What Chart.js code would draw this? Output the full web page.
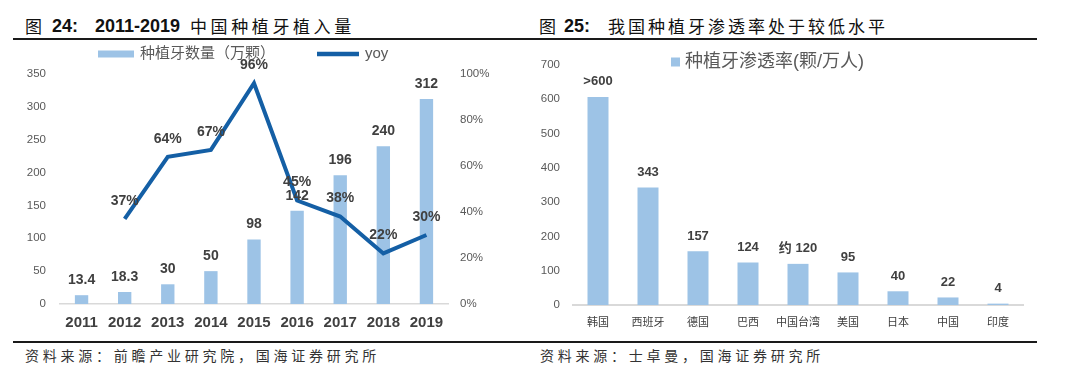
<!DOCTYPE html>
<html>
<head>
<meta charset="utf-8">
<script src="https://cdn.jsdelivr.net/npm/chart.js@4.4.1/dist/chart.umd.min.js"></script>
<style>
  body { margin: 0; width: 1080px; height: 376px; background: #fff; position: relative; overflow: hidden; }
  .t { position: absolute; white-space: nowrap; color: #111; line-height: 20px; top: 16px; }
  .cjk { font-family: "Noto Sans CJK SC", sans-serif; font-size: 17px; letter-spacing: 3.6px; }
  .num { font-family: "Liberation Sans", Arial, sans-serif; font-weight: bold; font-size: 18px; }
  .rule { position: absolute; left: 13px; width: 1024px; height: 2px; background: #1a1a1a; }
  .src { position: absolute; top: 345px; line-height: 20px; font-family: "Noto Sans CJK SC", sans-serif; font-size: 14px; letter-spacing: 3.75px; color: #333; white-space: nowrap; }
  canvas { position: absolute; top: 44px; }
</style>
</head>
<body>
<span class="t cjk" style="left:25px">图</span>
<span class="t num" style="left:52px">24:</span>
<span class="t num" style="left:95px">2011-2019</span>
<span class="t cjk" style="left:190px">中国种植牙植入量</span>

<span class="t cjk" style="left:539px">图</span>
<span class="t num" style="left:564px">25:</span>
<span class="t cjk" style="left:608px;letter-spacing:3px">我国种植牙渗透率处于较低水平</span>

<div class="rule" style="top:38px"></div>
<div class="rule" style="top:341px"></div>

<canvas id="implantChart" width="540" height="296" style="left:0"></canvas>
<canvas id="rateChart" width="540" height="296" style="left:540px"></canvas>

<div class="src" style="left:25px">资料来源：前瞻产业研究院，国海证券研究所</div>
<div class="src" style="left:540px">资料来源：士卓曼，国海证券研究所</div>

<script>
// data for fig 24
const years = ["2011", "2012", "2013", "2014", "2015", "2016", "2017", "2018", "2019"];
const implants = [13.4, 18.3, 30, 50, 98, 142, 196, 240, 312];
const implantLabels = ["13.4", "18.3", "30", "50", "98", "142", "196", "240", "312"];
const yoy = [null, 37, 64, 67, 96, 45, 38, 22, 30];

// data for fig 25
const countries = ["韩国", "西班牙", "德国", "巴西", "中国台湾", "美国", "日本", "中国", "印度"];
const penetration = [607, 343, 157, 124, 120, 95, 40, 22, 4];
const penetrationLabels = [">600", "343", "157", "124", "约 120", "95", "40", "22", "4"];

const LATIN = "'Liberation Sans', Arial, 'Noto Sans CJK SC', sans-serif";
const BAR_BLUE = "#9dc3e6";
const LINE_BLUE = "#145fa5";

// draws the text above each bar / point
const valueLabels = {
  id: "valueLabels",
  afterDatasetsDraw(chart) {
    const ctx = chart.ctx;
    chart.data.datasets.forEach((ds, i) => {
      if (!ds.valueTexts) return;
      const meta = chart.getDatasetMeta(i);
      meta.data.forEach((el, j) => {
        if (ds.data[j] === null) return;
        ctx.save();
        ctx.font = "bold " + ds.valueFont + "px " + LATIN;
        ctx.fillStyle = "#404040";
        ctx.textAlign = "center";
        ctx.textBaseline = "middle";
        ctx.fillText(ds.valueTexts[j], el.x, el.y - ds.valueOffset);
        ctx.restore();
      });
    });
  }
};

// simple legend drawn at a fixed spot
const fixedLegend = {
  id: "fixedLegend",
  afterDraw(chart, args, opts) {
    const ctx = chart.ctx;
    let x = opts.x;
    ctx.save();
    ctx.font = opts.fontSize + "px " + LATIN;
    ctx.textBaseline = "middle";
    chart.data.datasets.forEach((ds) => {
      const [w, h] = ds.legendBox;
      ctx.fillStyle = ds.type === "line" ? ds.borderColor : ds.backgroundColor;
      ctx.fillRect(x, opts.y - h / 2, w, h);
      x += w + opts.boxGap;
      ctx.fillStyle = "#595959";
      ctx.fillText(ds.label, x, opts.y);
      x += ctx.measureText(ds.label).width + opts.itemGap;
    });
    ctx.restore();
  }
};

const tickFont = { family: LATIN, size: 11.5 };

new Chart(document.getElementById("implantChart"), {
  data: {
    labels: years,
    datasets: [
      {
        type: "bar",
        label: "种植牙数量（万颗）",
        data: implants,
        backgroundColor: BAR_BLUE,
        barPercentage: 0.31,
        categoryPercentage: 1,
        yAxisID: "y",
        order: 1,
        valueTexts: implantLabels,
        valueFont: 14,
        valueOffset: 15,
        legendBox: [36, 7],
      },
      {
        type: "line",
        label: "yoy",
        data: yoy,
        borderColor: LINE_BLUE,
        backgroundColor: LINE_BLUE,
        borderWidth: 4,
        pointRadius: 0,
        tension: 0,
        yAxisID: "y1",
        order: 0,
        valueTexts: yoy.map((v) => (v === null ? "" : v + "%")),
        valueFont: 14,
        valueOffset: 18,
        legendBox: [42, 4.5],
      },
    ],
  },
  options: {
    responsive: false,
    animation: false,
    layout: { padding: { top: 30, left: 0, right: 0, bottom: 0 } },
    plugins: {
      legend: { display: false },
      tooltip: { enabled: false },
      fixedLegend: { x: 98, y: 10, fontSize: 15, boxGap: 6, itemGap: 42 },
    },
    scales: {
      x: {
        grid: { display: false, drawTicks: false },
        border: { display: true, color: "#d9d9d9", width: 1.5 },
        ticks: { color: "#404040", font: { family: LATIN, size: 15, weight: "bold" }, padding: 10, maxRotation: 0 },
        afterFit: (scale) => { scale.height = 36; },
      },
      y: {
        position: "left",
        min: 0,
        max: 350,
        grid: { display: false, drawTicks: false },
        border: { display: false },
        ticks: { stepSize: 50, color: "#595959", font: tickFont, padding: 14 },
        afterFit: (scale) => { scale.width = 60; },
      },
      y1: {
        position: "right",
        min: 0,
        max: 100,
        grid: { display: false, drawTicks: false },
        border: { display: false },
        ticks: { stepSize: 20, color: "#595959", font: tickFont, padding: 12, callback: (v) => v + "%" },
        afterFit: (scale) => { scale.width = 92; },
      },
    },
  },
  plugins: [valueLabels, fixedLegend],
});

new Chart(document.getElementById("rateChart"), {
  data: {
    labels: countries,
    datasets: [
      {
        type: "bar",
        label: "种植牙渗透率(颗/万人)",
        data: penetration,
        backgroundColor: BAR_BLUE,
        barPercentage: 0.42,
        categoryPercentage: 1,
        valueTexts: penetrationLabels,
        valueFont: 13,
        valueOffset: 15,
        legendBox: [9, 9],
      },
    ],
  },
  options: {
    responsive: false,
    animation: false,
    layout: { padding: { top: 21, left: 0, right: 57, bottom: 0 } },
    plugins: {
      legend: { display: false },
      tooltip: { enabled: false },
      fixedLegend: { x: 131, y: 18, fontSize: 18, boxGap: 5, itemGap: 20 },
    },
    scales: {
      x: {
        grid: { display: false, drawTicks: false },
        border: { display: true, color: "#d9d9d9", width: 2 },
        ticks: { color: "#404040", font: { family: "'Noto Sans CJK SC', sans-serif", size: 11 }, padding: 10, maxRotation: 0 },
        afterFit: (scale) => { scale.height = 35; },
      },
      y: {
        min: 0,
        max: 700,
        grid: { display: false, drawTicks: false },
        border: { display: false },
        ticks: { stepSize: 100, color: "#595959", font: tickFont, padding: 13 },
        afterFit: (scale) => { scale.width = 33; },
      },
    },
  },
  plugins: [valueLabels, fixedLegend],
});
</script>
</body>
</html>
